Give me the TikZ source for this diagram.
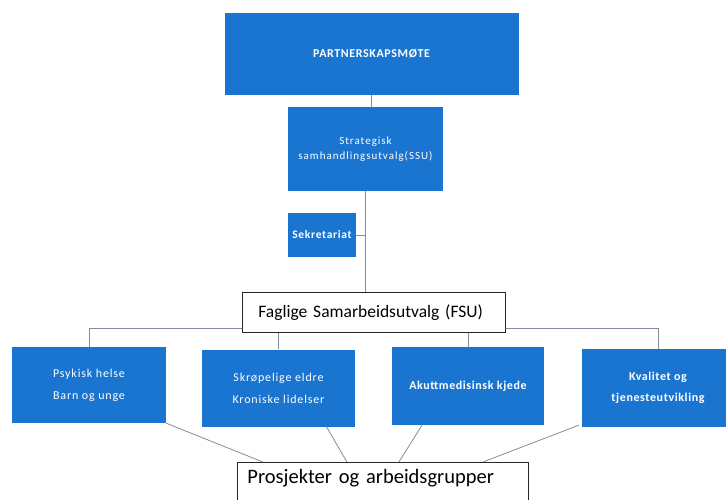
\documentclass[tikz,border=0pt]{standalone}
\usepackage{fontspec}
\setmainfont{Carlito}
\usepackage{tikz}
\usetikzlibrary{backgrounds}
\definecolor{unitblue}{RGB}{26,117,208}
\definecolor{linkgray}{RGB}{130,142,160}

\begin{document}
\begin{tikzpicture}[x=1pt, y=-1pt,
  unit/.style={fill=unitblue, text=white, align=center, inner sep=2pt,
    font=\fontsize{12}{14}\selectfont\addfontfeature{LetterSpace=7}},
  boldunit/.style={unit, font=\fontsize{12}{14}\selectfont\bfseries\addfontfeature{LetterSpace=5}},
  panel/.style={draw=black!85, fill=white, line width=0.8pt, inner xsep=0pt, align=left},
  link/.style={draw=linkgray, line width=0.8pt}
]
  \useasboundingbox (0,0) rectangle (726,499);
  \node[boldunit, minimum width=294, minimum height=82] (pms) at (371.5,54) {PARTNERSKAPSMØTE};
  \node[unit, minimum width=155, minimum height=84, font=\fontsize{11}{15}\selectfont\addfontfeature{LetterSpace=9}] (ssu) at (365.5,149) {Strategisk\\samhandlingsutvalg(SSU)};
  \node[boldunit, minimum width=68, minimum height=44, font=\fontsize{11.5}{13}\selectfont\bfseries\addfontfeature{LetterSpace=6}] (sek) at (322,235) {Sekretariat};
  \node[panel, anchor=north west, text width=231pt, inner xsep=16pt, minimum height=40,
    font=\fontsize{17.5}{20}\selectfont] (fsu) at (242,292) {Faglige Samarbeidsutvalg (FSU)};
  \node[unit, minimum width=154, minimum height=76] (psyk) at (89,385) {Psykisk helse\\[8pt]Barn og unge};
  \node[unit, minimum width=153, minimum height=77] (eldre) at (278.5,388) {Skrøpelige eldre\\[8pt]Kroniske lidelser};
  \node[boldunit, minimum width=152, minimum height=78] (akutt) at (468,386) {Akuttmedisinsk kjede};
  \node[boldunit, minimum width=152, minimum height=78] (kval) at (658,388) {Kvalitet og\\[7pt]tjenesteutvikling};
  \node[panel, anchor=north west, text width=271pt, inner xsep=10pt, inner ysep=6pt,
    text height=15pt, text depth=30pt, font=\fontsize{20.5}{22}\selectfont] (proj) at (237,462) {Prosjekter og arbeidsgrupper};
  \coordinate (bus) at (0,328);
  \begin{scope}[on background layer]
    \draw[link] (pms.south) -- (pms.south |- ssu.north);
    \draw[link] (ssu.south) -- (ssu.south |- fsu.north);
    \draw[link] (sek.east) -- (sek.east -| ssu.south);
    \draw[link] (psyk.north) |- (bus -| kval.north) -- (kval.north);
    \draw[link] (eldre.north) -- (eldre.north |- bus);
    \draw[link] (akutt.north) -- (akutt.north |- bus);
    \draw[link] (psyk.south east) -- ([xshift=-120pt]proj.north);
    \draw[link] ([xshift=48pt]eldre.south) -- ([xshift=-36pt]proj.north);
    \draw[link] ([xshift=-46pt]akutt.south) -- ([xshift=16pt]proj.north);
    \draw[link] ([xshift=-3pt,yshift=2pt]kval.south west) -- ([xshift=100pt]proj.north);
  \end{scope}
\end{tikzpicture}
\end{document}
